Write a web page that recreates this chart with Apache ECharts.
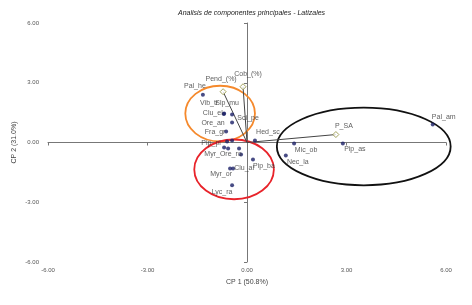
<!DOCTYPE html>
<html>
<head>
<meta charset="utf-8">
<script src="https://cdn.jsdelivr.net/npm/echarts@6/dist/echarts.min.js"></script>
<style>
  html, body { margin: 0; padding: 0; background: #fff; }
  #chart { width: 472px; height: 305px; }
</style>
</head>
<body>
<div id="chart"></div>
<script>
// especies (puntos)
const speciesNames = ["Pal_he", "Vib_tr", "Slp_mu", "Clu_el", "Ore_an", "Fra_gr", "Pip_pi", "Sci_pe",
    "", "", "", "Myr_Ore_ro", "Pip_ba", "Myr_or", "Clu_al", "Lyc_ra",
    "Hed_sc", "Mic_ob", "Nec_la", "Pip_as", "Pal_am"]
const speciesX = [-1.33, -0.69, -0.45, -0.70, -0.45, -0.63, -0.60, -0.45,
    -0.69, -0.57, -0.24, -0.18, 0.18, -0.51, -0.42, -0.45,
    0.24, 1.42, 1.17, 2.89, 5.60]
const speciesY = [2.40, 1.45, 1.40, 1.43, 1.00, 0.55, 0.05, 0.10,
    -0.25, -0.30, -0.30, -0.60, -0.85, -1.30, -1.30, -2.15,
    0.10, -0.05, -0.65, -0.05, 0.90]

// variables (vectores)
const varNames = ["Pend_(%)", "Cob_(%)", "P_SA"]
const varX = [-0.72, -0.12, 2.68]
const varY = [2.55, 2.80, 0.40]

// grupos (elipses): centro y radios en unidades de los ejes
const groupCX = [-0.81, -0.39, 3.52]
const groupCY = [1.45, -1.35, -0.20]
const groupRX = [1.05, 1.20, 2.62]
const groupRY = [1.40, 1.50, 1.95]

const axisMin = -6
const axisMax = 6
const axisStep = 3

// estilos
const groupColors = ["#f5892c", "#e8232a", "#111111"]
const labelOffset = {
    "Pal_he": [-8, -9], "Vib_tr": [-15, -11], "Slp_mu": [-5, -12], "Clu_el": [-11, -1],
    "Ore_an": [-19, 0], "Fra_gr": [-11, 1], "Pip_pi": [-16, 2], "Sci_pe": [16, -22],
    "Myr_Ore_ro": [-18, 0], "Pip_ba": [11, 7], "Myr_or": [-9, 6], "Clu_al": [11, 0],
    "Lyc_ra": [-10, 7], "Hed_sc": [13, -8], "Mic_ob": [12, 7], "Nec_la": [12, 7],
    "Pip_as": [12, 6], "Pal_am": [11, -8],
    "Pend_(%)": [-2, -13], "Cob_(%)": [5, -13], "P_SA": [8, -8]
}

let chart = echarts.init(document.getElementById("chart"))

let labelStyle = function (name) {
    return {
        show: name !== "",
        position: "inside",
        offset: labelOffset[name] || [0, 0],
        formatter: "{b}",
        fontSize: 7,
        fontFamily: "Liberation Sans",
        color: "#333"
    }
}

let speciesData = speciesNames.map(function (n, i) {
    return { name: n, value: [speciesX[i], speciesY[i]], label: labelStyle(n) }
})
let varData = varNames.map(function (n, i) {
    return { name: n, value: [varX[i], varY[i]], label: labelStyle(n) }
})
let groupData = groupCX.map(function (c, i) {
    return [c, groupCY[i], groupRX[i], groupRY[i]]
})

let axisCommon = {
    type: "value",
    min: axisMin,
    max: axisMax,
    interval: axisStep,
    nameLocation: "middle",
    nameMoveOverlap: false,
    nameTextStyle: { fontSize: 7, fontFamily: "Liberation Sans", color: "#444" },
    axisLine: { show: true, lineStyle: { color: "#777", width: 1 } },
    axisTick: { show: true, length: 3, lineStyle: { color: "#777" } },
    axisLabel: {
        fontSize: 6,
        fontFamily: "Liberation Sans",
        color: "#555",
        formatter: function (v) { return v.toFixed(2) }
    },
    splitLine: { show: false }
}

let option = {
    animation: false,
    title: {
        text: "Analisis de componentes principales - Latizales",
        left: 173,
        top: 5,
        textStyle: { fontSize: 7, fontStyle: "italic", fontWeight: "normal", fontFamily: "Liberation Sans", color: "#222" }
    },
    grid: { left: 48, right: 26, top: 23, bottom: 43 },
    xAxis: Object.assign({}, axisCommon, {
        name: "CP 1 (50.8%)",
        nameGap: 15,
        offset: 2,
        axisLabel: Object.assign({}, axisCommon.axisLabel, { margin: 3 })
    }),
    yAxis: Object.assign({}, axisCommon, {
        name: "CP 2 (31.0%)",
        nameGap: 25,
        offset: 5,
        axisLabel: Object.assign({}, axisCommon.axisLabel, { margin: 4 })
    }),
    series: [
        {
            type: "custom",
            name: "grupos",
            data: groupData,
            encode: { x: 0, y: 1 },
            renderItem: function (params, api) {
                let c = api.coord([api.value(0), api.value(1)])
                let s = api.size([api.value(2), api.value(3)])
                return {
                    type: "ellipse",
                    shape: { cx: c[0], cy: c[1], rx: s[0], ry: s[1] },
                    style: { fill: "none", stroke: groupColors[params.dataIndex], lineWidth: 1.8 }
                }
            },
            z: 1
        },
        {
            type: "custom",
            name: "vectores",
            data: varNames.map(function (n, i) { return [varX[i], varY[i]] }),
            encode: { x: 0, y: 1 },
            renderItem: function (params, api) {
                let o = api.coord([0, 0])
                let p = api.coord([api.value(0), api.value(1)])
                return {
                    type: "line",
                    shape: { x1: o[0], y1: o[1], x2: p[0], y2: p[1] },
                    style: { stroke: "#444", lineWidth: 1 }
                }
            },
            z: 2
        },
        {
            type: "scatter",
            name: "especies",
            data: speciesData,
            symbol: "circle",
            symbolSize: 4,
            itemStyle: { color: "#1a1f66" },
            z: 3
        },
        {
            type: "scatter",
            name: "variables",
            data: varData,
            symbol: "diamond",
            symbolSize: 6,
            itemStyle: { color: "#ffffff", borderColor: "#8f8f3a", borderWidth: 1 },
            z: 4
        }
    ]
}
chart.setOption(option)
</script>
</body>
</html>
